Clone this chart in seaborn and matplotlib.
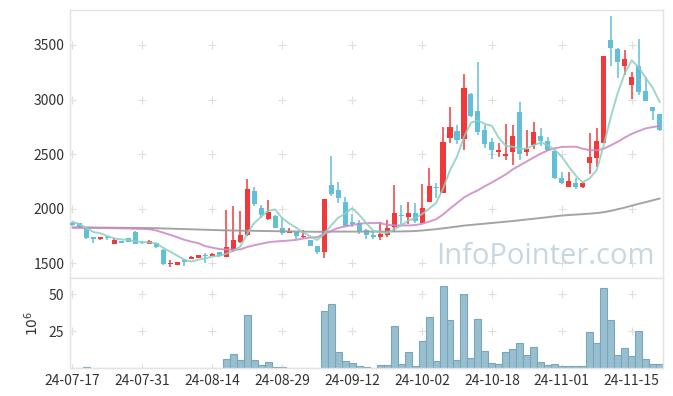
import numpy as np
import pandas as pd
import seaborn as sns
import matplotlib
matplotlib.use('Agg')
import matplotlib.pyplot as plt

# daily candles, 2024-07-17 .. 2024-11-21 (trading days)
opens = [1870, 1865, 1820, 1740, 1718, 1745, 1680, 1703, 1732, 1790,
         1698, 1680, 1685, 1622, 1492, 1488, 1528, 1542, 1552, 1578,
         1568, 1603, 1560, 1614, 1698, 1756, 2162, 2010, 1906, 1936,
         1821, 1780, 1787, 1736, 1713, 1658, 1606, 2217, 2172, 2065,
         1879, 1867, 1805, 1760, 1745, 1760, 1830, 1936, 1924, 1958,
         1866, 2064, 2200, 2146, 2648, 2716, 2636, 3051, 2893, 2719,
         2612, 2520, 2483, 2520, 2887, 2520, 2581, 2664, 2618, 2532,
         2280, 2200, 2233, 2200, 2420, 2466, 2603, 3546, 3463, 3311,
         3133, 3305, 3079, 2927, 2865]
highs = [1880, 1870, 1825, 1742, 1742, 1748, 1728, 1706, 1735, 1792,
         1706, 1712, 1690, 1630, 1530, 1512, 1540, 1565, 1578, 1590,
         1590, 1605, 1990, 2020, 1980, 2270, 2196, 2035, 2080, 1940,
         1925, 1823, 1790, 1805, 1716, 1662, 2090, 2483, 2245, 2110,
         1950, 1895, 1810, 1790, 1880, 1895, 2220, 2035, 2060, 2048,
         2230, 2370, 2237, 2750, 2932, 2762, 3232, 3060, 3340, 2765,
         2645, 2603, 2780, 2765, 2980, 2725, 2795, 2737, 2658, 2535,
         2338, 2338, 2280, 2240, 2694, 2743, 3400, 3766, 3470, 3454,
         3255, 3552, 3210, 2935, 2870]
lows = [1845, 1820, 1720, 1685, 1716, 1710, 1678, 1686, 1695, 1678,
        1678, 1675, 1640, 1485, 1468, 1485, 1475, 1540, 1548, 1505,
        1565, 1558, 1555, 1600, 1685, 1750, 2025, 1912, 1900, 1824,
        1760, 1776, 1720, 1734, 1656, 1582, 1545, 2120, 2050, 1840,
        1833, 1766, 1725, 1725, 1715, 1738, 1790, 1860, 1860, 1866,
        1866, 2060, 2102, 2140, 2600, 2590, 2542, 2840, 2673, 2560,
        2456, 2475, 2445, 2400, 2445, 2478, 2551, 2575, 2535, 2275,
        2228, 2198, 2182, 2185, 2322, 2383, 2600, 3308, 3195, 3225,
        3002, 3042, 2985, 2810, 2710]
closes = [1855, 1825, 1735, 1718, 1740, 1730, 1712, 1690, 1698, 1680,
          1688, 1700, 1645, 1490, 1505, 1508, 1515, 1560, 1575, 1570,
          1582, 1562, 1647, 1711, 1759, 2181, 2043, 1942, 1974, 1826,
          1780, 1800, 1750, 1750, 1658, 1606, 2085, 2134, 2101, 1842,
          1858, 1791, 1755, 1745, 1768, 1824, 1961, 1932, 1961, 1891,
          2005, 2208, 2192, 2609, 2749, 2625, 3106, 2850, 2703, 2597,
          2536, 2542, 2499, 2664, 2505, 2545, 2700, 2618, 2542, 2280,
          2235, 2249, 2200, 2237, 2475, 2618, 3397, 3475, 3347, 3372,
          3204, 3070, 2988, 2896, 2720]
# volume, millions of shares
volumes = [0.05, 0.05, 0.5, 0.05, 0.05, 0.05, 0.05, 0.05, 0.05, 0.05,
           0.05, 0.05, 0.05, 0.05, 0.05, 0.05, 0.05, 0.05, 0.05, 0.05,
           0.05, 0.05, 6.4, 9.2, 5.7, 36.1, 5.7, 2.3, 4.4, 1.0,
           1.0, 0.3, 0.3, 0.05, 0.3, 0.3, 38.9, 43.7, 10.7, 4.6,
           3.7, 1.6, 0.9, 0.3, 2.3, 2.3, 28.7, 3.0, 10.8, 1.6,
           18.4, 34.9, 4.6, 55.6, 32.2, 5.3, 50.1, 6.5, 32.9, 11.5,
           3.2, 2.5, 10.8, 12.9, 17.0, 8.7, 14.3, 3.9, 1.8, 2.5,
           1.1, 1.1, 1.1, 1.1, 24.6, 17.0, 54.2, 32.2, 8.7, 13.6,
           8.1, 25.3, 6.0, 2.5, 2.5]

# moving averages need days before the window: first values
ma5_lead = [1882, 1858, 1822, 1786]
ma20_lead = [1826, 1826, 1825, 1824, 1823, 1822, 1821, 1820, 1818, 1816,
             1815, 1812, 1800, 1780, 1760, 1738, 1715, 1698, 1684]
ma120 = [1828, 1828, 1827, 1827, 1826, 1826, 1825, 1825, 1824, 1824,
         1823, 1822, 1821, 1819, 1817, 1815, 1813, 1811, 1809, 1807,
         1805, 1803, 1801, 1800, 1799, 1798, 1797, 1796, 1795, 1794,
         1793, 1792, 1791, 1790, 1789, 1788, 1789, 1790, 1790, 1790,
         1790, 1790, 1790, 1790, 1790, 1791, 1791, 1792, 1793, 1795,
         1800, 1806, 1812, 1820, 1828, 1836, 1845, 1851, 1857, 1863,
         1869, 1875, 1881, 1887, 1894, 1901, 1908, 1915, 1922, 1930,
         1937, 1942, 1946, 1950, 1955, 1960, 1968, 1980, 1995, 2010,
         2028, 2045, 2060, 2077, 2093]

tick_pos = [0, 10, 20, 30, 40, 50, 60, 70, 80]
tick_labels = ['24-07-17', '24-07-31', '24-08-14', '24-08-29', '24-09-12',
               '24-10-02', '24-10-18', '24-11-01', '24-11-15']
price_ticks = [1500, 2000, 2500, 3000, 3500]
vol_ticks = [25, 50]

df = pd.DataFrame({'open': opens, 'high': highs, 'low': lows,
                   'close': closes, 'volume': volumes})
df['idx'] = np.arange(len(df))
ma5 = df['close'].rolling(5).mean().to_numpy()
ma5[:4] = ma5_lead
ma20 = df['close'].rolling(20).mean().to_numpy()
ma20[:19] = ma20_lead
df['ma5'] = ma5
df['ma20'] = ma20
df['ma120'] = ma120

sns.set_theme(style='white')
plt.rcParams['font.family'] = ['Noto Sans CJK KR', 'DejaVu Sans']

UP = '#f0393b'
DOWN = '#62bfd9'
EDGE = '#e3e3e3'
TXT = '#333333'

fig = plt.figure(figsize=(6.73, 3.96), dpi=100)
ax = fig.add_axes([0.104, 0.298, 0.881, 0.677])
axv = fig.add_axes([0.104, 0.0707, 0.881, 0.2273], sharex=ax)

# grid "+" marks
for a, yt in ((ax, price_ticks), (axv, [0] + vol_ticks)):
    gx, gy = np.meshgrid(tick_pos, yt)
    a.plot(gx.ravel(), gy.ravel(), ls='none', marker='+', ms=6, mew=0.8,
           color='#dedede', zorder=0)

# candles
up = df['close'] >= df['open']
colors = np.where(up, UP, DOWN)
ax.vlines(df['idx'], df['low'], df['high'], colors=colors, lw=1.1, zorder=2)
body_lo = np.minimum(df['open'], df['close'])
body_h = np.maximum((df['close'] - df['open']).abs(), 10)
ax.bar(df['idx'], body_h, bottom=body_lo, width=0.72, color=colors,
       linewidth=0, zorder=3)

# moving averages
sns.lineplot(data=df, x='idx', y='ma120', ax=ax, color='#9a9a9a', lw=1.4, alpha=0.9, zorder=4)
sns.lineplot(data=df, x='idx', y='ma20', ax=ax, color='#cc86c4', lw=1.4, alpha=0.85, zorder=4)
sns.lineplot(data=df, x='idx', y='ma5', ax=ax, color='#8ccfc0', lw=1.4, alpha=0.85, zorder=4)

ax.text(0.986, 0.025, 'InfoPointer.com', transform=ax.transAxes, ha='right',
        va='bottom', fontsize=21, color='#c6d7e3', family=['Open Sans', 'DejaVu Sans'],
        zorder=1)

# volume
sns.barplot(data=df, x='idx', y='volume', ax=axv, native_scale=True, width=1.0,
            color='#98bfcf', edgecolor='#7aa6ba', linewidth=0.8, saturation=1)

ax.set_xlim(-0.35, 84.45)
ax.set_ylim(1365, 3821)
axv.set_ylim(0, 61)

ax.set_yticks(price_ticks)
axv.set_yticks(vol_ticks)
axv.set_xticks(tick_pos)
axv.set_xticklabels(tick_labels)
ax.tick_params(axis='x', labelbottom=False)
for a in (ax, axv):
    a.tick_params(length=0, labelsize=10, labelcolor=TXT, pad=4)
    a.set_xlabel('')
    a.set_ylabel('')
    for s in a.spines.values():
        s.set_color(EDGE)
        s.set_linewidth(1)
axv.set_ylabel('$10^6$', fontsize=10, color=TXT, labelpad=6)

fig.savefig('out.png', dpi=100)
